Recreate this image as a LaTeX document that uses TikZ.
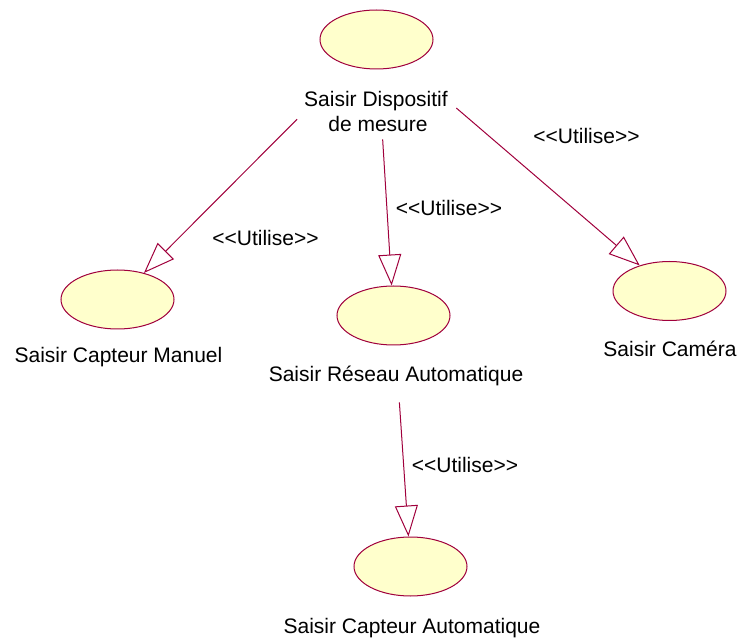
\documentclass[tikz,border=0pt]{standalone}
\usepackage{fontspec}
\setmainfont{Liberation Sans}
\usetikzlibrary{shapes.geometric,arrows.meta}
\definecolor{roseline}{RGB}{160,0,60}
\definecolor{rosefill}{RGB}{255,255,204}
\newcommand\usestext{<\kern0pt<Utilise>\kern0pt>}
\tikzset{
  usecase/.style={ellipse, draw=roseline, fill=rosefill, line width=1pt,
    minimum width=113pt, minimum height=59pt, inner sep=0pt},
  uclabel/.style={anchor=base, font=\fontsize{21}{25}\selectfont, inner sep=0pt},
  uses/.style={draw=roseline, line width=1pt,
    -{Triangle[length=31pt, width=23pt, fill=white]}},
}
\begin{document}
\begin{tikzpicture}[x=1pt, y=-1pt]
  \useasboundingbox (0,0) rectangle (740,639);

  % Use cases
  \node[usecase] (dispositif) at (376.5, 39.5) {};
  \node[usecase] (manuel) at (117.5, 299.5) {};
  \node[usecase] (reseau) at (393.5, 315.5) {};
  \node[usecase] (camera) at (669.5, 291) {};
  \node[usecase] (automatique) at (410.5, 566.5) {};

  % Use case names
  \node[uclabel] (dispositiflbl) at (376, 107) {Saisir Dispositif};
  \node[uclabel] (mesurelbl) at (378, 132) {de mesure};
  \node[uclabel] (manuellbl) at (118.5, 363) {Saisir Capteur Manuel};
  \node[uclabel] (reseaulbl) at (396, 382) {Saisir Réseau Automatique};
  \node[uclabel] (cameralbl) at (670, 357) {Saisir Caméra};
  \node[uclabel] (automatiquelbl) at (412, 633) {Saisir Capteur Automatique};

  % Include relations
  \draw[uses, shorten <=75pt] (dispositif) -- (manuel);
  \draw[uses, shorten <=70pt] (dispositif) -- (reseau);
  \draw[uses, shorten <=66pt] (dispositif) -- (camera);
  \draw[uses, shorten <=57pt] (reseau) -- (automatique);

  \node[uclabel] (uses1) at (265.5, 246) {\usestext};
  \node[uclabel] (uses2) at (449, 216) {\usestext};
  \node[uclabel] (uses3) at (586.5, 144) {\usestext};
  \node[uclabel] (uses4) at (465, 472) {\usestext};
\end{tikzpicture}
\end{document}
